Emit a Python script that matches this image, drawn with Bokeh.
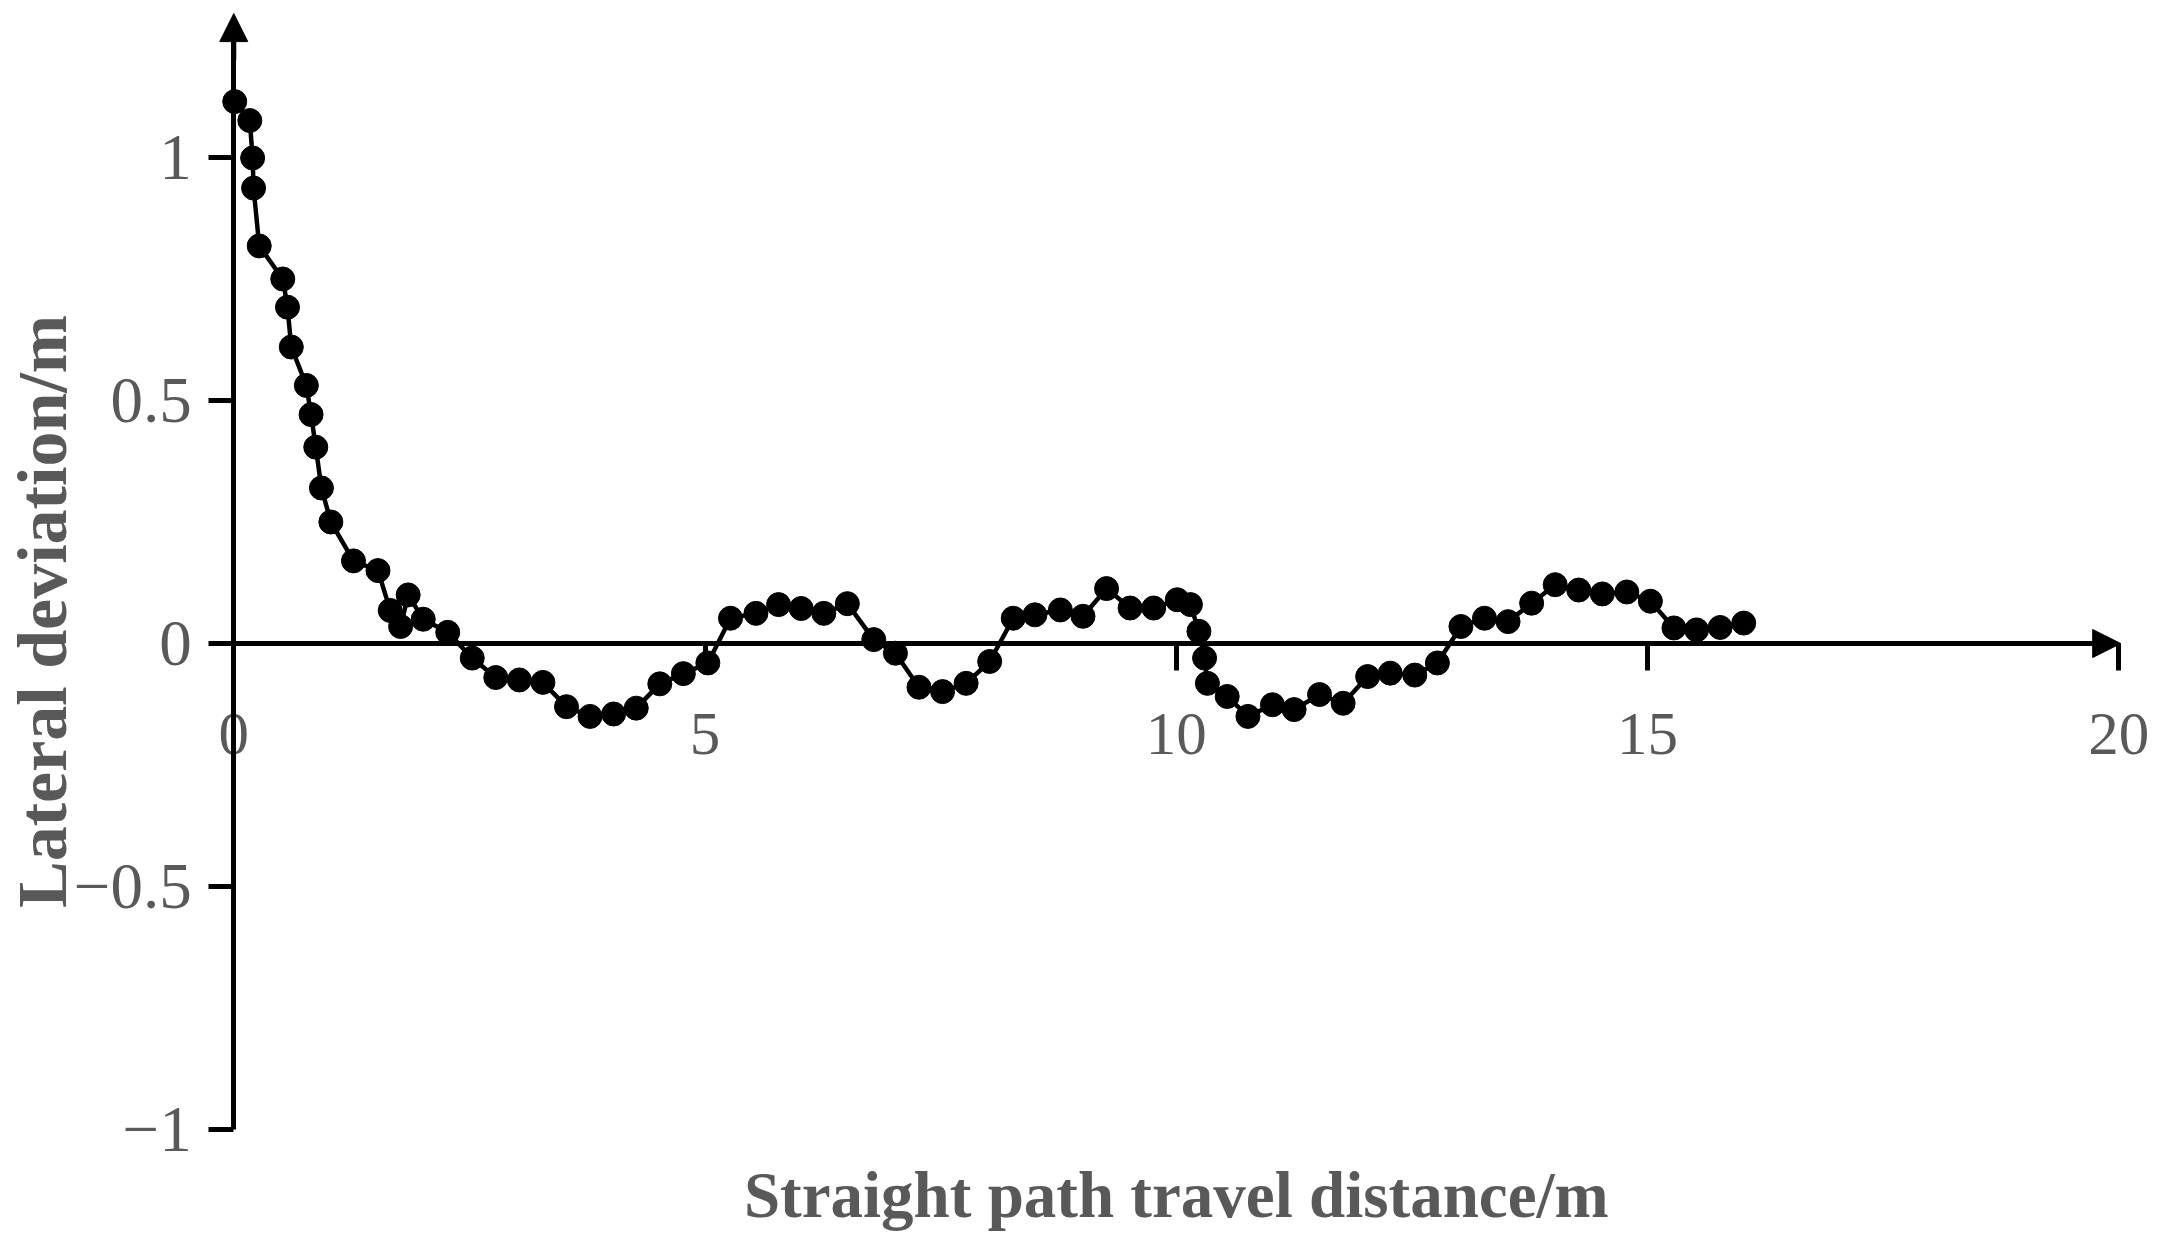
import math
from bokeh.plotting import figure
from bokeh.models import LinearAxis, FixedTicker, Range1d, Arrow, NormalHead, Label
from bokeh.embed import file_html
from bokeh.resources import INLINE

# ---- data ----
distance = [0.01, 0.17, 0.20, 0.21, 0.27, 0.52, 0.57, 0.61, 0.77, 0.82,
            0.87, 0.93, 1.03, 1.27, 1.53, 1.66, 1.77, 1.85, 2.01, 2.27,
            2.53, 2.78, 3.03, 3.28, 3.53, 3.78, 4.03, 4.27, 4.52, 4.77,
            5.03, 5.27, 5.54, 5.78, 6.02, 6.26, 6.51, 6.79, 7.02, 7.27,
            7.52, 7.77, 8.02, 8.27, 8.50, 8.77, 9.01, 9.26, 9.51, 9.76,
            10.01, 10.15, 10.24, 10.30, 10.33, 10.54, 10.76, 11.02, 11.25, 11.52,
            11.77, 12.03, 12.27, 12.53, 12.77, 13.02, 13.27, 13.52, 13.77, 14.02,
            14.27, 14.52, 14.78, 15.03, 15.28, 15.52, 15.77, 16.02]
deviation = [1.115, 1.076, 0.999, 0.937, 0.818, 0.750, 0.692, 0.610, 0.531, 0.471,
             0.404, 0.32, 0.25, 0.17, 0.15, 0.068, 0.035, 0.10, 0.05, 0.023,
             -0.03, -0.07, -0.075, -0.08, -0.13, -0.15, -0.145, -0.133, -0.083, -0.062,
             -0.04, 0.052, 0.062, 0.08, 0.072, 0.062, 0.082, 0.008, -0.02, -0.09,
             -0.099, -0.082, -0.037, 0.052, 0.059, 0.069, 0.056, 0.113, 0.073, 0.073,
             0.09, 0.08, 0.025, -0.03, -0.082, -0.109, -0.15, -0.126, -0.136, -0.105,
             -0.123, -0.068, -0.061, -0.065, -0.04, 0.035, 0.052, 0.045, 0.083, 0.121,
             0.11, 0.102, 0.106, 0.087, 0.032, 0.028, 0.033, 0.042]

x_ticks = [0, 5, 10, 15, 20]
x_tick_labels = ["0", "5", "10", "15", "20"]
y_ticks = [-1, -0.5, 0, 0.5, 1]
y_tick_labels = ["\u22121", "\u22120.5", "0", "0.5", "1"]
x_title = "Straight path travel distance/m"
y_title = "Lateral deviation/m"

FONT = "Liberation Serif"
GREY = "#595959"

p = figure(width=2150, height=1234,
           x_range=Range1d(-2.475, 20.336), y_range=Range1d(-1.216, 1.323),
           x_axis_type=None, y_axis_type=None,
           output_backend="svg", toolbar_location=None,
           min_border_left=0, min_border_right=0,
           min_border_top=0, min_border_bottom=0)
p.outline_line_color = None
p.background_fill_color = "white"

# axes crossing at the origin
xax = LinearAxis(fixed_location=0, ticker=FixedTicker(ticks=x_ticks),
                 major_label_overrides={float(t): l for t, l in zip(x_ticks, x_tick_labels)},
                 bounds=(-0.26, 19.9),
                 axis_line_width=5, axis_line_color="black",
                 major_tick_line_width=5, major_tick_out=27, major_tick_in=0,
                 minor_tick_line_color=None,
                 major_label_standoff=43,
                 major_label_text_font=FONT, major_label_text_font_size="61px",
                 major_label_text_color=GREY)
p.add_layout(xax, "below")

yax = LinearAxis(fixed_location=0, ticker=FixedTicker(ticks=y_ticks),
                 major_label_overrides={float(t): l for t, l in zip(y_ticks, y_tick_labels)},
                 bounds=(-1.0, 1.25),
                 axis_line_width=5, axis_line_color="black",
                 major_tick_line_width=5, major_tick_out=25, major_tick_in=0,
                 minor_tick_line_color=None,
                 major_label_standoff=17,
                 major_label_text_font=FONT, major_label_text_font_size="65px",
                 major_label_text_color=GREY)
p.add_layout(yax, "left")

# axis titles
p.add_layout(Label(x=10, y=-1.134, text=x_title, text_align="center",
                   text_baseline="alphabetic", text_font=FONT,
                   text_font_style="bold", text_font_size="65px", text_color=GREY))
p.add_layout(Label(x=-2.03, y=0.066, text=y_title, angle=math.pi / 2,
                   text_align="center", text_baseline="alphabetic", text_font=FONT,
                   text_font_style="bold", text_font_size="70px", text_color=GREY))

# arrow heads on the axes
p.add_layout(Arrow(end=NormalHead(size=28, fill_color="black", line_color="black", line_width=1),
                   x_start=0, y_start=1.2, x_end=0, y_end=1.296,
                   line_width=5, line_color="black"))
p.add_layout(Arrow(end=NormalHead(size=28, fill_color="black", line_color="black", line_width=1),
                   x_start=19.6, y_start=0, x_end=20.02, y_end=0,
                   line_width=5, line_color="black"))

# data
p.line(distance, deviation, line_color="black", line_width=4.5)
p.scatter(distance, deviation, size=24, fill_color="black", line_color="black")

open("out.html", "w").write(file_html(p, INLINE))
